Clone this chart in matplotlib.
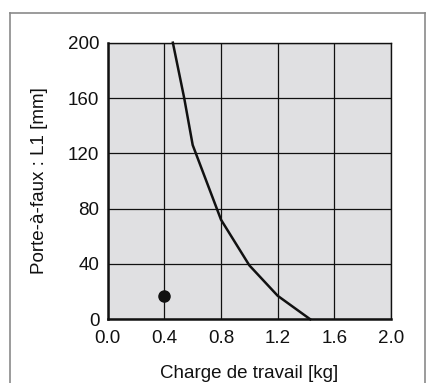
import matplotlib
matplotlib.use("Agg")
import matplotlib.pyplot as plt

plt.rcParams['font.family'] = ['Liberation Sans', 'DejaVu Sans']

# Allowable load curve
load_kg = [0.46, 0.54, 0.60, 0.80, 1.00, 1.20, 1.43]
overhang_mm = [200, 160, 126, 72, 39, 17, 0]

# Operating point
point_load = [0.40]
point_overhang = [16.5]

x_ticks = [0.0, 0.4, 0.8, 1.2, 1.6, 2.0]
y_ticks = [0, 40, 80, 120, 160, 200]

W, H = 426, 383
fig = plt.figure(figsize=(W / 100, H / 100), dpi=100)

# Outer frame (top, left, right edges)
frame_kw = dict(color='#8a8a8a', lw=1.2, transform=fig.transFigure)
fig.add_artist(plt.Line2D([9.5 / W, 9.5 / W], [0, 1 - 12.5 / H], **frame_kw))
fig.add_artist(plt.Line2D([9.5 / W, 425 / W], [1 - 12.5 / H, 1 - 12.5 / H], **frame_kw))
fig.add_artist(plt.Line2D([425 / W, 425 / W], [0, 1 - 12.5 / H], **frame_kw))

left, right, top, bottom = 107.7, 391.0, 42.7, 319.3
ax = fig.add_axes([left / W, 1 - bottom / H, (right - left) / W, (bottom - top) / H])
ax.set_facecolor('#e0e0e2')

ax.set_xlim(0, 2.0)
ax.set_ylim(0, 200)
ax.set_xticks(x_ticks)
ax.set_yticks(y_ticks)
ax.set_xticklabels([f"{v:.1f}" for v in x_ticks])
ax.set_yticklabels([str(v) for v in y_ticks])
ax.tick_params(length=0, labelsize=13.5, colors='#111111')
ax.tick_params(axis='x', pad=8)
ax.tick_params(axis='y', pad=6)
ax.grid(True, color='#111111', lw=0.9)
ax.set_axisbelow(True)

for side in ['left', 'bottom']:
    ax.spines[side].set_linewidth(1.8)
for side in ['top', 'right']:
    ax.spines[side].set_linewidth(1.0)
for s in ax.spines.values():
    s.set_color('#111111')

ax.plot(load_kg, overhang_mm, color='#111111', lw=1.8, clip_on=False, zorder=3)
ax.plot(point_load, point_overhang, 'o', color='#111111', ms=8, zorder=4)

ax.set_xlabel('Charge de travail [kg]', fontsize=13.5, labelpad=13, color='#111111')
ax.set_ylabel('Porte-à-faux : L1 [mm]', fontsize=13.5, labelpad=14, color='#111111')

fig.savefig('out.png', dpi=100)
